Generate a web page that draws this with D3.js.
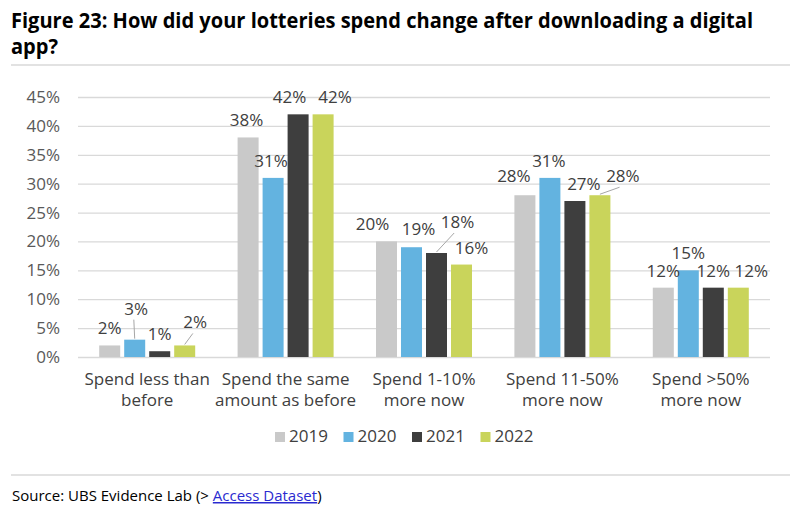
<!DOCTYPE html>
<html>
<head>
<meta charset="utf-8">
<script src="https://cdn.jsdelivr.net/npm/d3@7"></script>
<style>
  html, body { margin: 0; padding: 0; background: #fff; }
  svg { display: block; font-family: "Open Sans", "Noto Sans", sans-serif; }
</style>
</head>
<body>
<svg id="chart" width="800" height="514"></svg>
<script>
// ---- data ----
const categories = [
  ["Spend less than", "before"],
  ["Spend the same", "amount as before"],
  ["Spend 1-10%", "more now"],
  ["Spend 11-50%", "more now"],
  ["Spend >50%", "more now"]
];
const years = ["2019", "2020", "2021", "2022"];
const v2019 = [2, 38, 20, 28, 12];
const v2020 = [3, 31, 19, 31, 15];
const v2021 = [1, 42, 18, 27, 12];
const v2022 = [2, 42, 16, 28, 12];
const yTicks = [0, 5, 10, 15, 20, 25, 30, 35, 40, 45];

// ---- styling / label placement (not data) ----
const colors = ["#c9c9c9", "#63b3e0", "#3e3e3e", "#c9d45b"];
// per series, per category: [dx, dy, leader]
const labelNudge = [
  [[0, 0, 0], [-1.5, 0, 0], [-14, 0, 0], [-11, -2, 0], [0, 0, 0]],
  [[1.5, -14, 1], [-2, 0, 0], [7, -1, 0], [-1, 0, 0], [0, 0, 0]],
  [[0, 0, 0], [-8.5, 0, 0], [21, -14, 1], [9, 0, 0], [0, 0, 0]],
  [[10.5, -6, 1], [12, 0, 0], [10, 0, 0], [23, -2, 1], [13, 0, 0]]
];

const series = [v2019, v2020, v2021, v2022];
const svg = d3.select("#chart");

// title
const title = svg.append("g").attr("font-weight", "bold").attr("fill", "#000").attr("font-size", 21);
const t1 = title.append("text").attr("x", 11).attr("y", 28)
  .text("Figure 23: How did your lotteries spend change after downloading a digital");
title.append("text").attr("x", 11).attr("y", 54).text("app?");
const w1 = t1.node().getComputedTextLength();
if (w1 > 742) t1.attr("textLength", 742).attr("lengthAdjust", "spacingAndGlyphs");
title.selectAll("text").filter((d, i) => i === 1).each(function () {
  if (w1 > 742) {
    const w = this.getComputedTextLength();
    d3.select(this).attr("textLength", w * 742 / w1).attr("lengthAdjust", "spacingAndGlyphs");
  }
});

// separators
svg.append("line").attr("x1", 11).attr("x2", 790).attr("y1", 65).attr("y2", 65)
  .attr("stroke", "#d9d9d9").attr("stroke-width", 1.5);
svg.append("line").attr("x1", 11).attr("x2", 790).attr("y1", 475).attr("y2", 475)
  .attr("stroke", "#d9d9d9").attr("stroke-width", 1.5);

// scales
const plotLeft = 78, plotRight = 770, plotTop = 97, plotBottom = 357;
const y = d3.scaleLinear().domain([0, 45]).range([plotBottom, plotTop]);
const x0 = d3.scaleBand().domain(d3.range(categories.length)).range([plotLeft, plotRight]).padding(0);
const x1 = d3.scaleBand().domain(years).range([0, x0.bandwidth()]).paddingInner(0.16).paddingOuter(0.848);

// gridlines + y axis
const yAxis = d3.axisLeft(y).tickValues(yTicks).tickFormat(d => d + "%")
  .tickSize(-(plotRight - plotLeft)).tickPadding(18);
const ya = svg.append("g").attr("transform", `translate(${plotLeft},0)`).call(yAxis);
ya.select(".domain").remove();
ya.selectAll(".tick line").attr("stroke", "#d9d9d9").attr("stroke-width", 1.3);
ya.selectAll(".tick text").attr("fill", "#595959").attr("font-size", 17)
  .attr("font-family", "'Open Sans', 'Noto Sans', sans-serif");

// bars
const groups = svg.append("g").selectAll("g").data(categories).join("g")
  .attr("transform", (d, i) => `translate(${x0(i)},0)`);

years.forEach((yr, s) => {
  groups.append("rect")
    .attr("x", x1(yr))
    .attr("y", (d, i) => y(series[s][i]))
    .attr("width", x1.bandwidth())
    .attr("height", (d, i) => y(0) - y(series[s][i]))
    .attr("fill", colors[s]);
});

// data labels + leader lines
const labels = svg.append("g").attr("font-size", 17).attr("fill", "#404040");
years.forEach((yr, s) => {
  categories.forEach((c, i) => {
    const v = series[s][i];
    const cx = x0(i) + x1(yr) + x1.bandwidth() / 2;
    const top = y(v);
    const [dx, dy, leader] = labelNudge[s][i];
    const lx = cx + dx, ly = top - 11 + dy;
    const t = labels.append("text").attr("x", lx).attr("y", ly)
      .attr("text-anchor", "middle").text(v + "%");
    if (leader) {
      const w = t.node().getComputedTextLength();
      svg.append("line")
        .attr("x1", cx).attr("y1", top - 1)
        .attr("x2", lx - w * 0.1).attr("y2", ly + 5)
        .attr("stroke", "#a6a6a6").attr("stroke-width", 1);
    }
  });
});

// category labels
const cat = svg.append("g").attr("font-size", 17).attr("fill", "#404040").attr("text-anchor", "middle");
categories.forEach((lines, i) => {
  const cx = x0(i) + x0.bandwidth() / 2;
  lines.forEach((ln, k) => {
    cat.append("text").attr("x", cx).attr("y", 385 + k * 21).text(ln);
  });
});

// legend
const legend = svg.append("g").attr("font-size", 17).attr("fill", "#404040");
years.forEach((yr, s) => {
  const lx = 275 + s * 68.5;
  legend.append("rect").attr("x", lx).attr("y", 432).attr("width", 10).attr("height", 10).attr("fill", colors[s]);
  legend.append("text").attr("x", lx + 14).attr("y", 442).text(yr);
});

// source
const src = svg.append("text").attr("x", 12).attr("y", 501).attr("font-size", 15).attr("fill", "#000");
src.append("tspan").text("Source: UBS Evidence Lab (> ");
src.append("tspan").attr("fill", "#2a2ad0").attr("text-decoration", "underline").text("Access Dataset");
src.append("tspan").text(")");
</script>
</body>
</html>
